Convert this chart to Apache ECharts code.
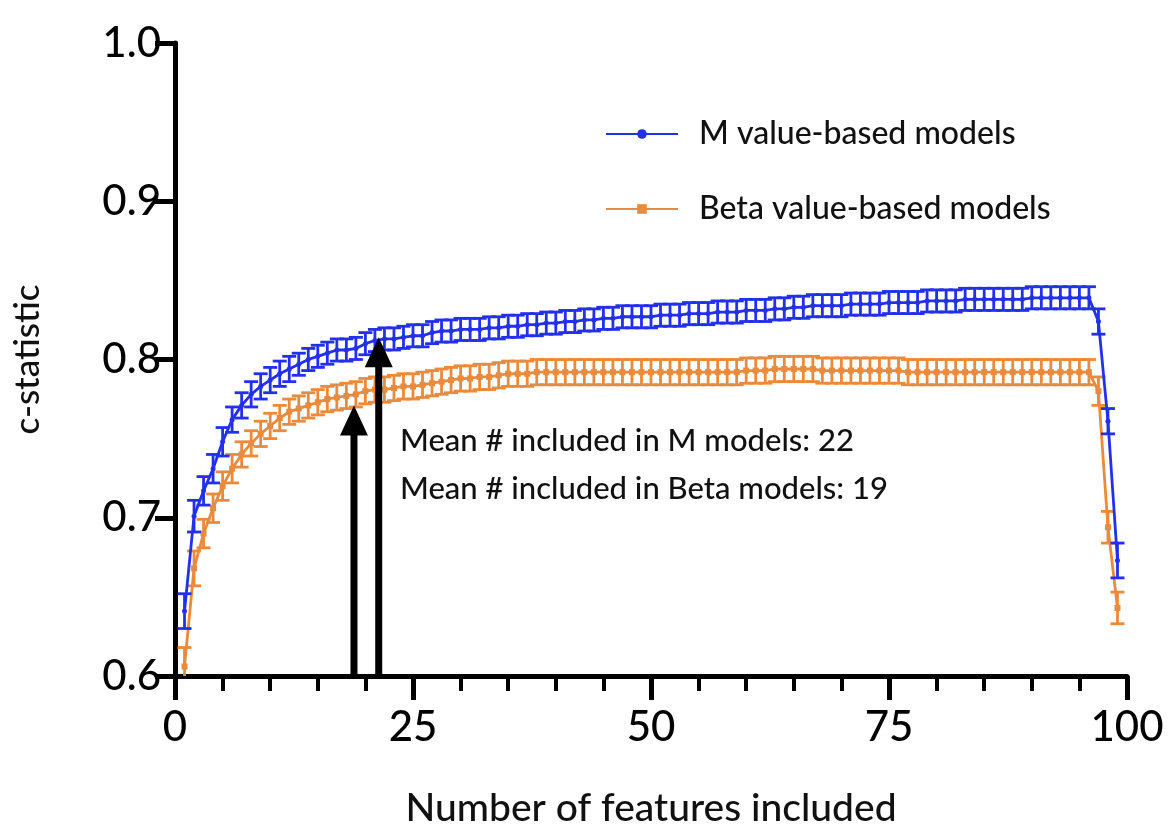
<!DOCTYPE html>
<html>
<head>
<meta charset="utf-8">
<script src="https://cdn.jsdelivr.net/npm/echarts@6/dist/echarts.min.js"></script>
<style>
html,body{margin:0;padding:0;background:#fff;}
#chart{width:1169px;height:829px;}
</style>
</head>
<body>
<div id="chart"></div>
<script>
// ---- data ----
const features = Array.from({length: 99}, (_, i) => i + 1); // 1..99 features included
const mValues = [
  0.641,0.701,0.717,0.731,0.748,0.762,0.771,0.778,0.783,0.787,
  0.791,0.794,0.797,0.800,0.802,0.804,0.806,0.806,0.807,0.810,
  0.812,0.813,0.813,0.814,0.815,0.815,0.817,0.818,0.818,0.819,
  0.819,0.819,0.820,0.820,0.821,0.821,0.822,0.822,0.823,0.823,
  0.824,0.824,0.825,0.825,0.826,0.826,0.827,0.827,0.827,0.827,
  0.828,0.828,0.828,0.829,0.829,0.829,0.830,0.830,0.830,0.831,
  0.831,0.831,0.832,0.832,0.833,0.833,0.834,0.834,0.834,0.834,
  0.835,0.835,0.835,0.835,0.836,0.836,0.836,0.836,0.837,0.837,
  0.837,0.837,0.838,0.838,0.838,0.838,0.838,0.838,0.838,0.839,
  0.839,0.839,0.839,0.839,0.839,0.839,0.824,0.761,0.673
];
const mErrors = [
  0.011,0.010,0.009,0.009,0.009,0.008,0.008,0.008,0.008,0.008,
  0.008,0.008,0.007,0.007,0.007,0.007,0.007,0.007,0.007,0.007,
  0.007,0.007,0.007,0.007,0.007,0.007,0.007,0.007,0.007,0.007,
  0.007,0.007,0.007,0.007,0.007,0.007,0.007,0.007,0.007,0.007,
  0.007,0.007,0.007,0.007,0.007,0.007,0.007,0.007,0.007,0.007,
  0.007,0.007,0.007,0.007,0.007,0.007,0.007,0.007,0.007,0.007,
  0.007,0.007,0.007,0.007,0.007,0.007,0.007,0.007,0.007,0.007,
  0.007,0.007,0.007,0.007,0.007,0.007,0.007,0.007,0.007,0.007,
  0.007,0.007,0.007,0.007,0.007,0.007,0.007,0.007,0.007,0.007,
  0.007,0.007,0.007,0.007,0.007,0.007,0.008,0.008,0.011
];
const betaValues = [
  0.606,0.668,0.690,0.706,0.720,0.731,0.740,0.747,0.753,0.758,
  0.763,0.767,0.769,0.771,0.773,0.775,0.776,0.777,0.778,0.780,
  0.781,0.781,0.782,0.783,0.783,0.784,0.785,0.786,0.787,0.788,
  0.788,0.789,0.789,0.790,0.791,0.791,0.791,0.792,0.792,0.792,
  0.792,0.792,0.792,0.792,0.792,0.792,0.792,0.792,0.792,0.792,
  0.792,0.792,0.792,0.792,0.792,0.792,0.792,0.792,0.792,0.793,
  0.793,0.793,0.794,0.794,0.794,0.794,0.794,0.793,0.793,0.793,
  0.793,0.793,0.793,0.793,0.793,0.793,0.792,0.792,0.792,0.792,
  0.792,0.792,0.792,0.792,0.792,0.792,0.792,0.792,0.792,0.792,
  0.792,0.792,0.792,0.792,0.792,0.792,0.780,0.694,0.643
];
const betaErrors = [
  0.012,0.011,0.009,0.009,0.009,0.009,0.008,0.008,0.008,0.008,
  0.008,0.008,0.008,0.008,0.008,0.008,0.008,0.008,0.008,0.008,
  0.008,0.008,0.008,0.008,0.008,0.008,0.008,0.008,0.008,0.008,
  0.008,0.008,0.008,0.008,0.008,0.008,0.008,0.008,0.008,0.008,
  0.008,0.008,0.008,0.008,0.008,0.008,0.008,0.008,0.008,0.008,
  0.008,0.008,0.008,0.008,0.008,0.008,0.008,0.008,0.008,0.008,
  0.008,0.008,0.008,0.008,0.008,0.008,0.008,0.008,0.008,0.008,
  0.008,0.008,0.008,0.008,0.008,0.008,0.008,0.008,0.008,0.008,
  0.008,0.008,0.008,0.008,0.008,0.008,0.008,0.008,0.008,0.008,
  0.008,0.008,0.008,0.008,0.008,0.008,0.009,0.010,0.010
];
// arrows: [x position, c-statistic at tip]
const arrowBeta = [18.8, 0.771];
const arrowM = [21.4, 0.814];
const seriesNames = ['M value-based models', 'Beta value-based models'];
const annotations = ['Mean # included in M models: 22', 'Mean # included in Beta models: 19'];
const yTicks = [0.6, 0.7, 0.8, 0.9, 1.0];
const xTicks = [0, 25, 50, 75, 100];

// ---- styles ----
const BLUE = '#2230ec';
const ORANGE = '#ea8a3c';
const FONT = 'Lato';
const WEIGHT = 500;

const mLine = features.map((x, i) => [x, mValues[i]]);
const betaLine = features.map((x, i) => [x, betaValues[i]]);
const mErr = features.map((x, i) => [x, mValues[i] - mErrors[i], mValues[i] + mErrors[i]]);
const betaErr = features.map((x, i) => [x, betaValues[i] - betaErrors[i], betaValues[i] + betaErrors[i]]);

function errRender(color) {
  return function (params, api) {
    const x = api.value(0);
    const lo = api.coord([x, api.value(1)]);
    const hi = api.coord([x, api.value(2)]);
    const hw = 7;
    const style = {stroke: color, lineWidth: 2.8, fill: null};
    return {
      type: 'group',
      children: [
        {type: 'line', shape: {x1: lo[0], y1: lo[1], x2: hi[0], y2: hi[1]}, style},
        {type: 'line', shape: {x1: lo[0] - hw, y1: lo[1], x2: lo[0] + hw, y2: lo[1]}, style},
        {type: 'line', shape: {x1: hi[0] - hw, y1: hi[1], x2: hi[0] + hw, y2: hi[1]}, style}
      ]
    };
  };
}

function arrowRender(params, api) {
  const x = api.value(0);
  const base = api.coord([x, 0.6]);
  const tip = api.coord([x, api.value(1)]);
  const sw = 3.5, hw = 14, hl = 30;
  const cx = tip[0];
  const pts = [
    [cx - sw, base[1]], [cx - sw, tip[1] + hl], [cx - hw, tip[1] + hl],
    [cx, tip[1]], [cx + hw, tip[1] + hl], [cx + sw, tip[1] + hl], [cx + sw, base[1]]
  ];
  return {type: 'polygon', shape: {points: pts}, style: {fill: '#000'}};
}

const chart = echarts.init(document.getElementById('chart'), null, {renderer: 'canvas'});
chart.setOption({
  backgroundColor: '#fff',
  animation: false,
  grid: {left: 175, right: 42, top: 43, bottom: 153, containLabel: false, outerBoundsMode: 'none'},
  legend: {
    orient: 'vertical',
    left: 600,
    top: 113,
    itemWidth: 72,
    itemHeight: 12,
    itemGap: 43,
    data: seriesNames,
    textStyle: {fontFamily: FONT, fontWeight: WEIGHT, fontSize: 32, color: '#111', padding: [0, 0, 0, 16]}
  },
  xAxis: {
    type: 'value',
    min: xTicks[0], max: xTicks[xTicks.length - 1], interval: 25,
    name: 'Number of features included',
    nameLocation: 'middle', nameGap: 113,
    nameTextStyle: {fontFamily: FONT, fontWeight: WEIGHT, fontSize: 39, color: '#111'},
    axisLine: {show: true, onZero: false, lineStyle: {color: '#000', width: 5}},
    axisTick: {show: true, length: 24, lineStyle: {color: '#000', width: 5}},
    minorTick: {show: true, splitNumber: 5, length: 15, lineStyle: {color: '#000', width: 4}},
    axisLabel: {fontFamily: FONT, fontWeight: WEIGHT, fontSize: 42, color: '#000', margin: 30},
    splitLine: {show: false}
  },
  yAxis: {
    type: 'value',
    min: yTicks[0], max: yTicks[yTicks.length - 1], interval: 0.1,
    name: 'c-statistic',
    nameLocation: 'middle', nameGap: 130, nameRotate: 90,
    nameTextStyle: {fontFamily: FONT, fontWeight: WEIGHT, fontSize: 35, color: '#111'},
    axisLine: {show: true, onZero: false, lineStyle: {color: '#000', width: 5}},
    axisTick: {show: true, length: 20, lineStyle: {color: '#000', width: 5}},
    axisLabel: {fontFamily: FONT, fontWeight: WEIGHT, fontSize: 42, color: '#000', margin: 14,
      formatter: v => v.toFixed(1)},
    splitLine: {show: false}
  },
  series: [
    {
      name: seriesNames[0], type: 'line', data: mLine, z: 4,
      symbol: 'circle', symbolSize: 5, showAllSymbol: true,
      lineStyle: {color: BLUE, width: 2.8}, itemStyle: {color: BLUE}
    },
    {
      name: seriesNames[1], type: 'line', data: betaLine, z: 3,
      symbol: 'rect', symbolSize: 6, showAllSymbol: true,
      lineStyle: {color: ORANGE, width: 2.8}, itemStyle: {color: ORANGE}
    },
    {type: 'custom', name: 'mErr', data: mErr, renderItem: errRender(BLUE), z: 4, clip: true},
    {type: 'custom', name: 'betaErr', data: betaErr, renderItem: errRender(ORANGE), z: 3, clip: true},
    {type: 'custom', name: 'arrows', data: [arrowBeta, arrowM], renderItem: arrowRender, z: 6}
  ],
  graphic: [
    {type: 'text', left: 400, top: 425, style: {text: annotations[0], fontFamily: FONT, fontWeight: WEIGHT, fontSize: 31, fill: '#111'}},
    {type: 'text', left: 400, top: 473, style: {text: annotations[1], fontFamily: FONT, fontWeight: WEIGHT, fontSize: 31, fill: '#111'}}
  ]
});
</script>
</body>
</html>
